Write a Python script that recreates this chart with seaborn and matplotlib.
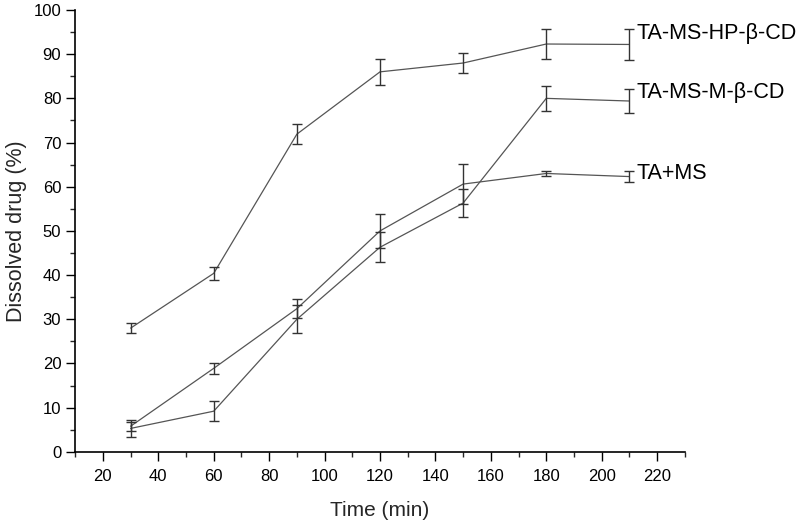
import numpy as np
import pandas as pd
import matplotlib
matplotlib.use("Agg")
import matplotlib.pyplot as plt
from matplotlib.ticker import MultipleLocator
import seaborn as sns

time_min = [30, 60, 90, 120, 150, 180, 210]
series_names = ["TA-MS-HP-β-CD", "TA-MS-M-β-CD", "TA+MS"]

hp_mean = [28.0, 40.4, 71.9, 86.0, 88.0, 92.3, 92.2]
hp_err = [1.2, 1.4, 2.3, 3.0, 2.2, 3.3, 3.5]

m_mean = [5.3, 9.2, 30.0, 46.3, 56.3, 80.0, 79.4]
m_err = [1.9, 2.2, 3.2, 3.4, 3.2, 2.8, 2.8]

ms_mean = [5.8, 18.9, 32.4, 50.0, 60.6, 63.0, 62.3]
ms_err = [1.0, 1.3, 2.2, 3.8, 4.6, 0.6, 1.3]

means = [hp_mean, m_mean, ms_mean]
errs = [hp_err, m_err, ms_err]

df = pd.concat([
    pd.DataFrame({"time": time_min, "dissolved": m, "err": e, "group": name})
    for name, m, e in zip(series_names, means, errs)
], ignore_index=True)

sns.set_style("ticks")
plt.rcParams['font.family'] = ['Liberation Sans', 'DejaVu Sans']

fig, ax = plt.subplots(figsize=(8, 5.26), dpi=100)
fig.subplots_adjust(left=0.094, right=0.856, top=0.981, bottom=0.141)

line_color = "#555555"
sns.lineplot(data=df, x="time", y="dissolved", hue="group", palette=[line_color] * 3,
             linewidth=0.9, legend=False, ax=ax, errorbar=None)

for name in series_names:
    sub = df[df["group"] == name]
    ax.errorbar(sub["time"], sub["dissolved"], yerr=sub["err"], fmt="none",
                ecolor="#333333", elinewidth=1.0, capsize=3.5, capthick=1.0)

# labels to the right of each curve's last point
label_offsets = {"TA-MS-HP-β-CD": 8, "TA-MS-M-β-CD": 6, "TA+MS": 2}
for name in series_names:
    sub = df[df["group"] == name]
    ax.annotate(name, xy=(sub["time"].iloc[-1], sub["dissolved"].iloc[-1]),
                xytext=(5, label_offsets[name]), textcoords="offset points",
                ha="left", va="center", fontsize=15.5, color="black",
                annotation_clip=False)

ax.set_xlim(10, 230)
ax.set_ylim(0, 100)
ax.xaxis.set_major_locator(MultipleLocator(20))
ax.xaxis.set_minor_locator(MultipleLocator(10))
ax.yaxis.set_major_locator(MultipleLocator(10))
ax.yaxis.set_minor_locator(MultipleLocator(5))
ax.tick_params(which="major", direction="out", length=6.5, width=1, labelsize=12, colors="black")
ax.tick_params(axis="x", which="major", pad=6)
ax.tick_params(which="minor", direction="out", length=3.5, width=1)
ax.set_xticks(range(20, 221, 20))

ax.set_xlabel("Time (min)", fontsize=15, labelpad=12)
ax.set_ylabel("Dissolved drug (%)", fontsize=15.5, labelpad=5)

sns.despine(ax=ax)
for sp in ["left", "bottom"]:
    ax.spines[sp].set_linewidth(1.2)
    ax.spines[sp].set_color("black")

fig.savefig("out.png", dpi=100)
